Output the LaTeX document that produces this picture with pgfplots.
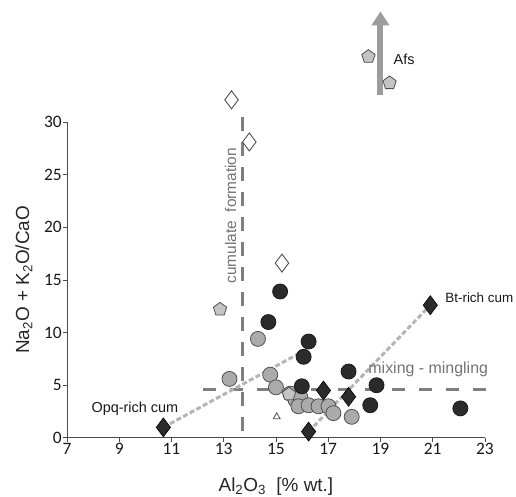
\documentclass[border=0pt]{standalone}
\usepackage{pgfplots}
\pgfplotsset{compat=1.18}
\usepackage{fontspec}
\setmainfont{Liberation Sans}
\newfontfamily\calibri{Carlito}
\usetikzlibrary{arrows.meta}
\definecolor{darkm}{HTML}{2B2B2B}
\definecolor{graym}{HTML}{ABABAB}
\definecolor{pentm}{HTML}{C4C4C4}
\definecolor{edgem}{HTML}{505050}
\definecolor{dashc}{HTML}{7F7F7F}
\definecolor{mixc}{HTML}{B5B5B5}
\definecolor{arrowc}{HTML}{9C9C9C}
\begin{document}
\begin{tikzpicture}
\begin{axis}[
 scale only axis, width=418bp, height=316bp,
 xmin=7, xmax=23, ymin=0, ymax=30,
 axis x line*=bottom, axis y line*=left,
 axis line style={draw=black!70, line width=0.8pt},
 xtick={7,9,...,23}, ytick={0,5,...,30},
 tick align=outside, major tick length=4bp,
 tick style={draw=black!70, line width=0.8pt},
 ticklabel style={font=\calibri\fontsize{17.5}{17.5}\selectfont, text=black!90, inner sep=1bp},
 /pgf/number format/assume math mode=true,
 clip=false,
 xlabel={Al\textsubscript{2}O\textsubscript{3}\ \ [\% wt.]},
 ylabel={Na\textsubscript{2}O + K\textsubscript{2}O/CaO},
 xlabel style={at={(axis description cs:0.5,0)}, anchor=base, yshift=-53.5bp, font=\fontsize{19}{19}\selectfont, text=black!85},
 ylabel style={at={(axis description cs:-0.103,0.5)}, anchor=center, font=\fontsize{19}{19}\selectfont, text=black!85},
]
% dashed reference lines
\addplot[dashc, line width=3bp, dash pattern=on 14bp off 11bp] coordinates {(13.7,0.7) (13.7,31.2)};
\addplot[dashc, line width=3bp, dash pattern=on 13bp off 14bp] coordinates {(12.2,4.6) (23.2,4.6)};
% mixing lines
\addplot[mixc, line width=3bp, dash pattern=on 5bp off 2.5bp] coordinates {(10.69,1.0) (15.8,7.9)};
\addplot[mixc, line width=3bp, dash pattern=on 5bp off 2.5bp] coordinates {(16.25,0.6) (20.91,12.6)};
% Afs arrow
\addplot[arrowc, line width=6bp, -{Triangle[length=14bp,width=17bp]}] coordinates {(19,32.6) (19,40.5)};
% gray circles
\addplot[only marks, mark=*, mark size=7.5bp, mark options={fill=graym, draw=edgem, line width=0.8pt}] coordinates {
(14.31,9.4) (13.22,5.6) (14.78,6.0) (15.0,4.8) (15.55,4.2) (15.75,3.6) (15.93,3.9) (15.86,3.0)
(16.25,3.1) (16.63,3.0) (17.01,3.0) (17.2,2.35) (17.9,2.0)};
% dark circles
\addplot[only marks, mark=*, mark size=7.5bp, mark options={fill=darkm, draw=black!90, line width=0.8pt}] coordinates {
(15.16,13.9) (14.71,11.0) (16.25,9.15) (16.06,7.7) (15.99,4.9) (17.78,6.3) (18.85,5.0) (18.61,3.1) (22.06,2.8)};
% pentagons
\addplot[only marks, mark=pentagon*, mark size=7bp, mark options={fill=pentm, draw=edgem, line width=0.8pt}] coordinates {
(12.86,12.2) (15.5,4.15) (18.54,36.2) (19.35,33.7)};
% dark diamonds
\addplot[only marks, mark=diamond*, mark size=9.5bp, mark options={fill=darkm, draw=black, line width=0.6pt}] coordinates {
(10.69,1.0) (16.25,0.6) (16.82,4.5) (17.78,3.9) (20.91,12.6)};
% open diamonds
\addplot[only marks, mark=diamond*, mark size=9bp, mark options={fill=white, draw=edgem, line width=0.9pt}] coordinates {
(13.30,32.1) (13.98,28.1) (15.23,16.6)};
% triangle
\addplot[only marks, mark=triangle*, mark size=4bp, mark options={fill=white, draw=edgem, line width=0.8pt}] coordinates {(15.03,2.0)};
% texts
\node[rotate=90, text=black!55, font=\fontsize{15.5}{15.5}\selectfont] at (axis cs:13.26,21.1) {cumulate\ \ formation};
\node[text=black!55, font=\fontsize{16}{16}\selectfont] at (axis cs:20.83,6.55) {mixing - mingling};
\node[anchor=west, text=black!90, font=\fontsize{13.5}{13.5}\selectfont] at (axis cs:21.35,13.3) {Bt-rich cum};
\node[text=black!90, font=\fontsize{14.5}{14.5}\selectfont] at (axis cs:9.6,2.8) {Opq-rich cum};
\node[anchor=west, text=black!90, font=\fontsize{14.5}{14.5}\selectfont] at (axis cs:19.37,35.9) {Afs};
\coordinate (bl) at (axis cs:4.435,-5.60);
\coordinate (tr) at (axis cs:24.19,41.58);
\end{axis}
\pgfresetboundingbox
\path (bl) rectangle (tr);
\end{tikzpicture}
\end{document}
